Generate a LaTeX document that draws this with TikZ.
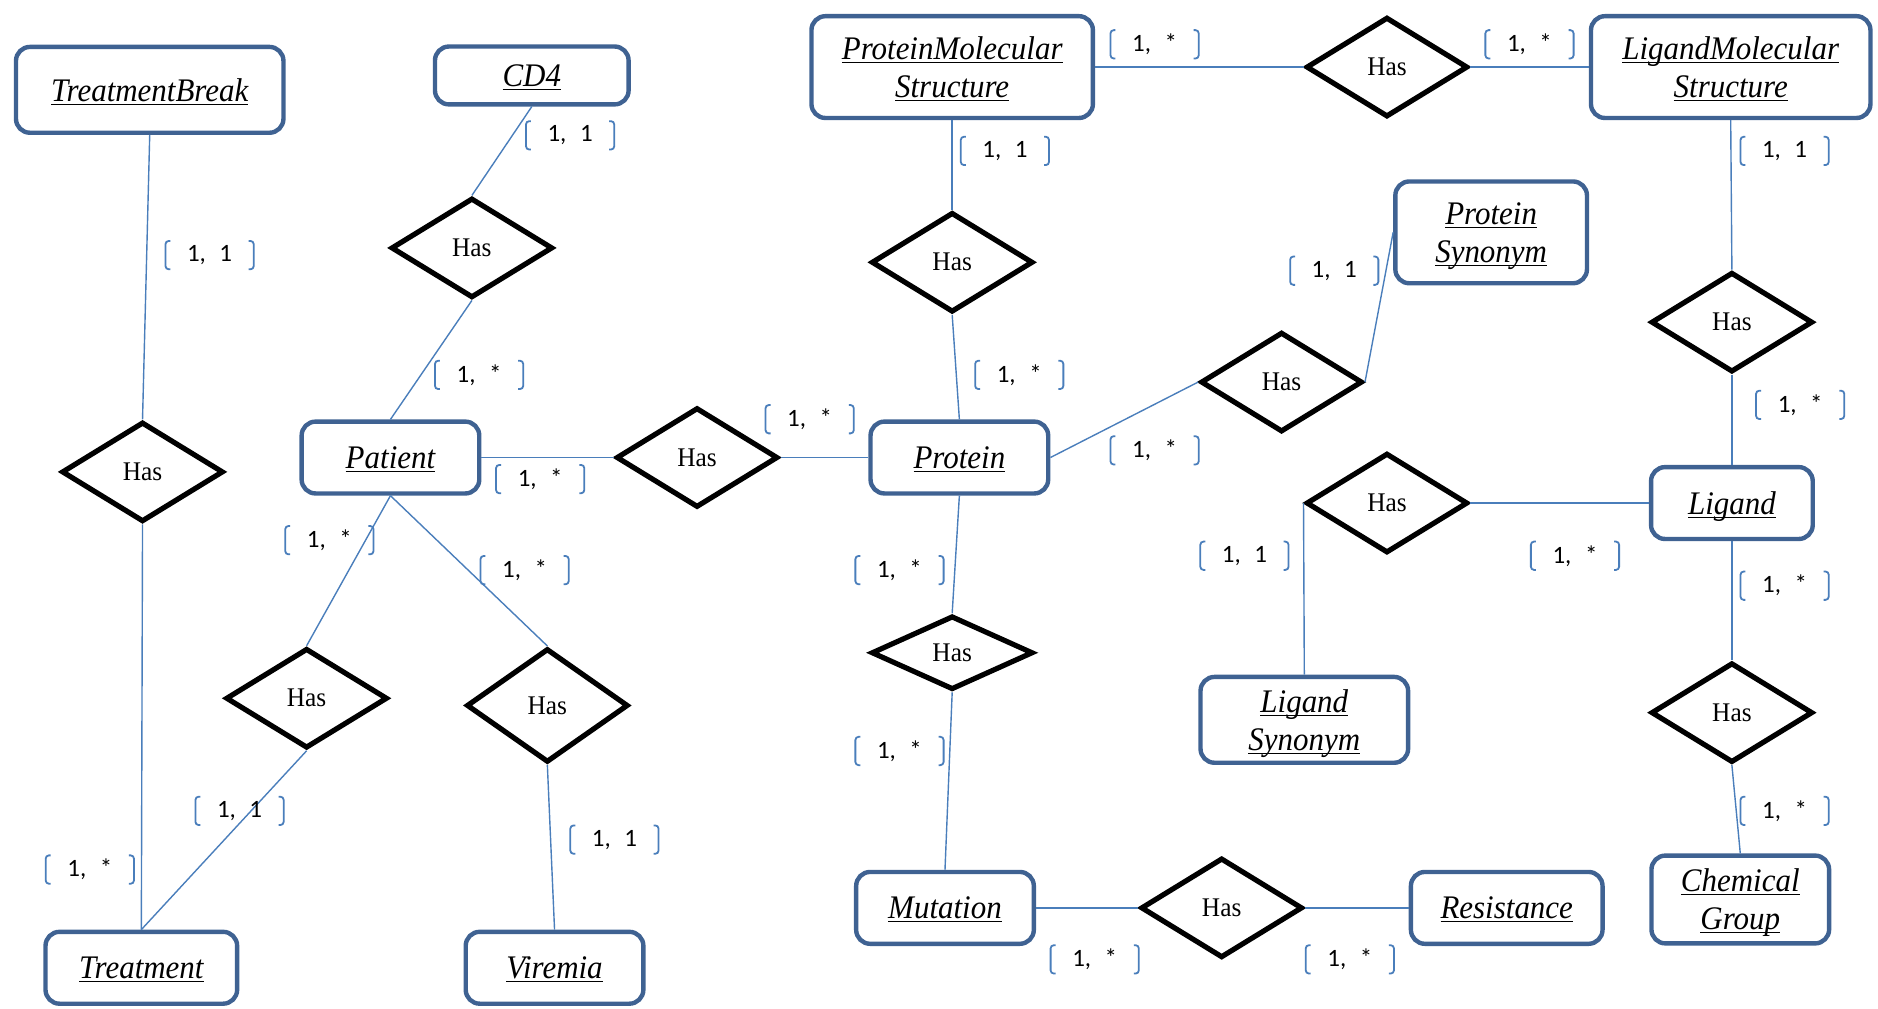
\documentclass[tikz,border=0pt]{standalone}
\usepackage{fontspec}
\usetikzlibrary{shapes.geometric}
\newfontfamily\entfont[FakeStretch=0.94]{Liberation Serif}
\newfontfamily\cardfont[WordSpace=2.4]{Carlito}
\definecolor{entblue}{HTML}{3F6292}
\definecolor{linkblue}{HTML}{4A7EBB}
\newcommand{\nodepth}[1]{\raisebox{0pt}[\height][0pt]{#1}}
\newcommand{\uent}[1]{\nodepth{\underline{\nodepth{#1}}}}

\begin{document}
\begin{tikzpicture}[x=0.6pt, y=-0.6pt,
    entity/.style={draw=entblue, line width=2.2pt, rounded corners=7pt, fill=white, align=center, inner sep=2pt,
        font=\entfont\itshape\fontsize{16.5}{19}\selectfont},
    rel/.style={diamond, draw=black, line width=2.6pt, inner sep=0pt, minimum width=81pt, minimum height=50pt,
        font=\entfont\fontsize{13.5}{16}\selectfont},
    link/.style={draw=linkblue, line width=0.7pt},
    bracket/.style={draw=linkblue, line width=0.9pt, rounded corners=1.6pt},
    card/.style={inner sep=0pt, minimum width=45.6pt, minimum height=15.6pt, font=\cardfont\fontsize{12.5}{14}\selectfont,
        path picture={
            \draw[bracket] ([xshift=3.2pt,yshift=-0.7pt]path picture bounding box.north west) -- ([xshift=0.7pt,yshift=-0.7pt]path picture bounding box.north west)
                -- ([xshift=0.7pt,yshift=0.7pt]path picture bounding box.south west) -- ([xshift=3.2pt,yshift=0.7pt]path picture bounding box.south west);
            \draw[bracket] ([xshift=-3.2pt,yshift=-0.7pt]path picture bounding box.north east) -- ([xshift=-0.7pt,yshift=-0.7pt]path picture bounding box.north east)
                -- ([xshift=-0.7pt,yshift=0.7pt]path picture bounding box.south east) -- ([xshift=-3.2pt,yshift=0.7pt]path picture bounding box.south east);
        }}]

    \useasboundingbox (0,0) rectangle (1568,842);

    \node[entity, minimum width=134pt, minimum height=43pt] (TB) at (125,75) {\uent{TreatmentBreak}};
    \node[entity, minimum width=97pt, minimum height=29pt] (CD) at (444,63) {\uent{CD4}};
    \node[entity, minimum width=141pt, minimum height=51pt] (PMS) at (795,56) {\uent{ProteinMolecular}\\\uent{Structure}};
    \node[entity, minimum width=140pt, minimum height=51pt] (LMS) at (1445,56) {\uent{LigandMolecular}\\\uent{Structure}};
    \node[entity, minimum width=96pt, minimum height=51pt] (PS) at (1245,194) {\uent{Protein}\\\uent{Synonym}};
    \node[entity, minimum width=89pt, minimum height=36pt] (Pa) at (326,382) {\uent{Patient}};
    \node[entity, minimum width=89pt, minimum height=36pt] (Pr) at (801,382) {\uent{Protein}};
    \node[entity, minimum width=81pt, minimum height=36pt] (Li) at (1446,420) {\uent{Ligand}};
    \node[entity, minimum width=104pt, minimum height=43pt] (LS) at (1089,601) {\uent{Ligand}\\\uent{Synonym}};
    \node[entity, minimum width=89pt, minimum height=44pt] (CG) at (1453,751) {\uent{Chemical}\\\uent{Group}};
    \node[entity, minimum width=96pt, minimum height=36pt] (Tr) at (118,808) {\uent{Treatment}};
    \node[entity, minimum width=89pt, minimum height=36pt] (Vi) at (463,808) {\uent{Viremia}};
    \node[entity, minimum width=89pt, minimum height=36pt] (Mu) at (789,758) {\uent{Mutation}};
    \node[entity, minimum width=96pt, minimum height=36pt] (Re) at (1258,758) {\uent{Resistance}};

    \node[rel] (H1) at (119,394) {Has};
    \node[rel] (H2) at (394,207) {Has};
    \node[rel] (H3) at (582,382) {Has};
    \node[rel] (H4) at (256,583) {Has};
    \node[rel, minimum height=57pt] (H5) at (457,589) {Has};
    \node[rel] (H6) at (795,219) {Has};
    \node[rel] (H7) at (1158,56) {Has};
    \node[rel] (H8) at (1070,319) {Has};
    \node[rel] (H9) at (1446,269) {Has};
    \node[rel] (H10) at (1158,420) {Has};
    \node[rel] (H11) at (1446,595) {Has};
    \node[rel, minimum height=37pt] (H12) at (795,545) {Has};
    \node[rel] (H13) at (1020,758) {Has};

    \draw[link] (TB.south) -- (H1.north);
    \draw[link] (H1.south) -- (Tr.north);
    \draw[link] (CD.south) -- (H2.north);
    \draw[link] (H2.south) -- (Pa.north);
    \draw[link] (Pa.east) -- (H3.west);
    \draw[link] (H3.east) -- (Pr.west);
    \draw[link] (Pa.south) -- (H4.north);
    \draw[link] (Pa.south) -- (H5.north);
    \draw[link] (H4.south) -- (Tr.north);
    \draw[link] (H5.south) -- (Vi.north);
    \draw[link] (PMS.south) -- (H6.north);
    \draw[link] (H6.south) -- (Pr.north);
    \draw[link] (PMS.east) -- (H7.west);
    \draw[link] (H7.east) -- (LMS.west);
    \draw[link] (Pr.east) -- (H8.west);
    \draw[link] (H8.east) -- (PS.west);
    \draw[link] (LMS.south) -- (H9.north);
    \draw[link] (H9.south) -- (Li.north);
    \draw[link] (Li.west) -- (H10.east);
    \draw[link] (H10.west) -- (LS.north);
    \draw[link] (Li.south) -- (H11.north);
    \draw[link] (H11.south) -- (CG.north);
    \draw[link] (Pr.south) -- (H12.north);
    \draw[link] (H12.south) -- (Mu.north);
    \draw[link] (Mu.east) -- (H13.west);
    \draw[link] (H13.east) -- (Re.west);

    \node[card] (C1) at (476,113) {1, 1};
    \node[card] (C2) at (175,213) {1, 1};
    \node[card] (C3) at (400,313) {1, *};
    \node[card] (C4) at (451,400) {1, *};
    \node[card] (C5) at (676,350) {1, *};
    \node[card] (C6) at (275,451) {1, *};
    \node[card] (C7) at (438,476) {1, *};
    \node[card] (C8) at (200,677) {1, 1};
    \node[card] (C9) at (75,726) {1, *};
    \node[card] (C10) at (513,701) {1, 1};
    \node[card] (C11) at (964,37) {1, *};
    \node[card] (C12) at (1277,37) {1, *};
    \node[card] (C13) at (839,126) {1, 1};
    \node[card] (C14) at (851,313) {1, *};
    \node[card] (C15) at (1114,226) {1, 1};
    \node[card] (C16) at (964,376) {1, *};
    \node[card] (C17) at (1490,126) {1, 1};
    \node[card] (C18) at (1503,338) {1, *};
    \node[card] (C19) at (1039,464) {1, 1};
    \node[card] (C20) at (1315,464) {1, *};
    \node[card] (C21) at (1490,489) {1, *};
    \node[card] (C22) at (1490,677) {1, *};
    \node[card] (C23) at (751,476) {1, *};
    \node[card] (C24) at (751,627) {1, *};
    \node[card] (C25) at (914,801) {1, *};
    \node[card] (C26) at (1127,801) {1, *};
\end{tikzpicture}
\end{document}
